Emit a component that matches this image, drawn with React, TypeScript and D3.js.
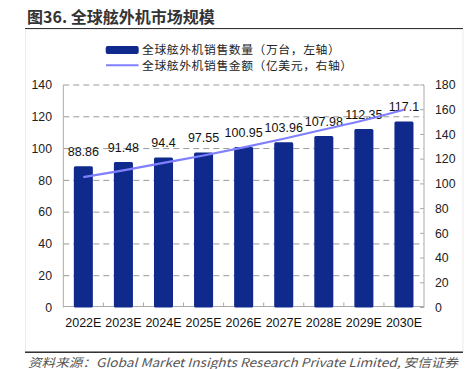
import React from "react";
import * as d3 from "d3";

const years = ["2022E", "2023E", "2024E", "2025E", "2026E", "2027E", "2028E", "2029E", "2030E"];
const units = [88.86, 91.48, 94.4, 97.55, 100.95, 103.96, 107.98, 112.35, 117.1];
const sales = [105.5, 111, 117, 123, 129.5, 136.5, 144, 151.5, 160];
const leftTicks = [0, 20, 40, 60, 80, 100, 120, 140];
const rightTicks = [0, 20, 40, 60, 80, 100, 120, 140, 160, 180];

const W = 473;
const H = 369;
const plotL = 63.3;
const plotR = 424;
const plotT = 85;
const plotB = 307.5;

const numFont = "'Liberation Sans', Arial, sans-serif";
const cjkFont = "'Noto Sans CJK SC', 'Noto Sans', sans-serif";

export default function App() {
  const x = d3.scaleBand<string>().domain(years).range([plotL, plotR]).padding(0);
  const yL = d3.scaleLinear().domain([0, 140]).range([plotB, plotT]);
  const yR = d3.scaleLinear().domain([0, 180]).range([plotB, plotT]);
  const bw = x.step() * 0.475;
  const cx = (d: string) => (x(d) as number) + x.bandwidth() / 2;

  const line = d3
    .line<number>()
    .x((_, i) => cx(years[i]))
    .y((d) => yR(d))
    .curve(d3.curveMonotoneX);

  return (
    <svg
      width={W}
      height={H}
      style={{ position: "absolute", left: 0, top: 0, background: "#fff" }}
    >
      {/* title */}
      <text x={27} y={23} fontFamily={cjkFont} fontSize={16} fontWeight="bold" fill="#333">
        图36. 全球舷外机市场规模
      </text>
      <line x1={25} x2={463} y1={28.7} y2={28.7} stroke="#333" strokeWidth={1.4} />

      {/* faint frame */}
      <rect x={25.5} y={29.5} width={437.5} height={322} fill="none" stroke="#ececec" strokeWidth={1} />

      {/* legend */}
      <rect x={105.7} y={46} width={33} height={8} rx={2} fill="#0f2a8c" />
      <text x={142} y={54} fontFamily={cjkFont} fontSize={11.8} letterSpacing={0.6} fill="#222">
        全球舷外机销售数量（万台，左轴）
      </text>
      <line x1={106} x2={138.5} y1={65.3} y2={65.3} stroke="#7f7fff" strokeWidth={2} />
      <text x={142} y={69.6} fontFamily={cjkFont} fontSize={11.8} letterSpacing={0.6} fill="#222">
        全球舷外机销售金额（亿美元，右轴）
      </text>

      {/* grid */}
      {leftTicks
        .filter((t) => t > 0)
        .map((t) => (
          <line
            key={"g" + t}
            x1={plotL}
            x2={plotR}
            y1={yL(t)}
            y2={yL(t)}
            stroke="#9a9a9a"
            strokeWidth={1}
            strokeDasharray="6,4"
          />
        ))}

      {/* axes lines */}
      <line x1={plotL} x2={plotL} y1={plotT} y2={plotB} stroke="#aaa" strokeWidth={1} />
      <line x1={plotR} x2={plotR} y1={plotT} y2={plotB} stroke="#aaa" strokeWidth={1} />
      <line x1={plotL} x2={plotR} y1={plotB - 1} y2={plotB - 1} stroke="#aaa" strokeWidth={1} />

      {/* right ticks */}
      {rightTicks.map((t) => (
        <line key={"rt" + t} x1={plotR - 4} x2={plotR} y1={yR(t)} y2={yR(t)} stroke="#aaa" />
      ))}
      {/* bottom ticks */}
      {years.slice(1).map((d) => (
        <line
          key={"bt" + d}
          x1={x(d) as number}
          x2={x(d) as number}
          y1={plotB - 5}
          y2={plotB - 1}
          stroke="#aaa"
        />
      ))}

      {/* left tick labels */}
      {leftTicks.map((t) => (
        <text
          key={"lt" + t}
          x={52}
          y={yL(t) + 4.3}
          textAnchor="end"
          fontFamily={numFont}
          fontSize={12.3}
          fill="#222"
        >
          {t}
        </text>
      ))}
      {/* right tick labels */}
      {rightTicks.map((t) => (
        <text
          key={"rl" + t}
          x={435}
          y={yR(t) + 4.3}
          textAnchor="start"
          fontFamily={numFont}
          fontSize={12.3}
          fill="#222"
        >
          {t}
        </text>
      ))}

      {/* bars */}
      {units.map((v, i) => (
        <rect
          key={"b" + i}
          x={cx(years[i]) - bw / 2}
          y={yL(v)}
          width={bw}
          height={plotB - yL(v)}
          rx={1.5}
          fill="#0f2a8c"
        />
      ))}

      {/* bar labels */}
      {units.map((v, i) => (
        <text
          key={"bl" + i}
          x={cx(years[i])}
          y={yL(v) - 10}
          textAnchor="middle"
          fontFamily={numFont}
          fontSize={12.5}
          fill="#111"
        >
          {String(v)}
        </text>
      ))}

      {/* line */}
      <path d={line(sales) || ""} fill="none" stroke="#7f7fff" strokeWidth={2.2} />

      {/* x labels */}
      {years.map((d) => (
        <text
          key={"xl" + d}
          x={cx(d)}
          y={327}
          textAnchor="middle"
          fontFamily={numFont}
          fontSize={12.5}
          fill="#111"
        >
          {d}
        </text>
      ))}

      {/* footer */}
      <line x1={25} x2={463} y1={352.3} y2={352.3} stroke="#333" strokeWidth={1.4} />
      <text
        x={28}
        y={367}
        fontFamily={cjkFont}
        fontSize={12}
        fontStyle="italic"
        fill="#555"
        textLength={430}
        lengthAdjust="spacingAndGlyphs"
      >
        资料来源：Global Market Insights Research Private Limited, 安信证券
      </text>
    </svg>
  );
}
